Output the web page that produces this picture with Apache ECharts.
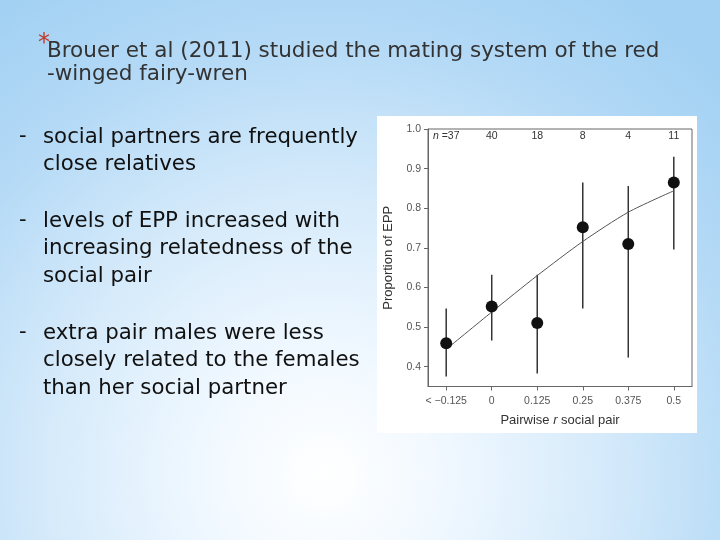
<!DOCTYPE html>
<html>
<head>
<meta charset="utf-8">
<script src="https://cdn.jsdelivr.net/npm/echarts@6/dist/echarts.min.js"></script>
<style>
  html, body { margin: 0; padding: 0; }
  body {
    width: 720px; height: 540px; overflow: hidden;
    background: radial-gradient(ellipse 78% 105% at 45% 88%, #ffffff 0%, #f0f8ff 22%, #d3e9fa 52%, #b3d9f6 78%, #a3d1f3 100%);
  }
  #chart { width: 720px; height: 540px; }
</style>
</head>
<body>
<div id="chart"></div>
<script>
// categories on the x axis (pairwise relatedness of the social pair)
var rValues = [-0.125, 0, 0.125, 0.25, 0.375, 0.5];
var rLabels = ['< \u22120.125', '0', '0.125', '0.25', '0.375', '0.5'];
// sample size per class
var nCounts = ['37', '40', '18', '8', '4', '11'];
// observed proportion of EPP and its interval
var eppValues = [0.459, 0.552, 0.510, 0.752, 0.710, 0.865];
var eppLower = [0.375, 0.466, 0.383, 0.547, 0.423, 0.696];
var eppUpper = [0.547, 0.632, 0.632, 0.865, 0.856, 0.930];
// fitted curve
var fitValues = [0.444, 0.538, 0.630, 0.716, 0.790, 0.844];
// y tick labels
var yTicks = [0.4, 0.5, 0.6, 0.7, 0.8, 0.9, 1.0];

var titleLines = ['Brouer et al (2011) studied the mating system of the red', '-winged fairy-wren'];
var bullets = [
    ['social partners are frequently', 'close relatives'],
    ['levels of EPP increased with', 'increasing relatedness of the', 'social pair'],
    ['extra pair males were less', 'closely related to the females', 'than her social partner']
];

function rLabel(v) {
    for (var i = 0; i < rValues.length; i++) {
        if (Math.abs(rValues[i] - v) < 1e-6) return rLabels[i];
    }
    return '';
}
function nLabel(v) {
    for (var i = 0; i < rValues.length; i++) {
        if (Math.abs(rValues[i] - v) < 1e-6) {
            return i === 0 ? '{i|n} =' + nCounts[i] : nCounts[i];
        }
    }
    return '';
}

// slide texts
var slideFont = '"DejaVu Sans", sans-serif';
var elements = [];
elements.push({
    type: 'rect', z: -10,
    shape: {x: 377, y: 116, width: 320, height: 317},
    style: {fill: '#ffffff'}
});
elements.push({
    type: 'text', x: 38, y: 44, z: 10,
    style: {text: '*', fill: '#c0392b', font: '24px ' + slideFont, verticalAlign: 'middle'}
});
titleLines.forEach(function (line, i) {
    elements.push({
        type: 'text', x: 47, y: 51 + i * 23, z: 10,
        style: {text: line, fill: '#333333', font: '21.5px ' + slideFont, verticalAlign: 'middle'}
    });
});
var paraTop = [137, 221, 333];
bullets.forEach(function (para, p) {
    elements.push({
        type: 'text', x: 19, y: paraTop[p], z: 10,
        style: {text: '-', fill: '#111111', font: '21px ' + slideFont, verticalAlign: 'middle'}
    });
    para.forEach(function (line, i) {
        elements.push({
            type: 'text', x: 43, y: paraTop[p] + i * 27.5, z: 10,
            style: {text: line, fill: '#111111', font: '21.3px ' + slideFont, verticalAlign: 'middle'}
        });
    });
});

var myChart = echarts.init(document.getElementById('chart'));
var chartFont = '"Liberation Sans", Arial, sans-serif';
var option = {
    backgroundColor: 'transparent',
    animation: false,
    graphic: {elements: elements},
    grid: {
        left: 428, right: 28, top: 129, bottom: 153.5,
        show: true, borderColor: '#666', borderWidth: 1, backgroundColor: '#fff'
    },
    xAxis: [
        {
            type: 'value', min: -0.175, max: 0.55,
            name: 'Pairwise {i|r} social pair',
            nameLocation: 'middle', nameGap: 27,
            nameTextStyle: {
                color: '#333', fontSize: 13, fontFamily: chartFont,
                rich: {i: {fontStyle: 'italic', color: '#333', fontSize: 13, fontFamily: chartFont}}
            },
            axisLine: {show: true, onZero: false, lineStyle: {color: '#666', width: 1}},
            axisTick: {show: true, length: 4, customValues: rValues, lineStyle: {color: '#666'}},
            axisLabel: {
                customValues: rValues, formatter: rLabel, margin: 9,
                color: '#555', fontSize: 10.5, fontFamily: chartFont
            },
            splitLine: {show: false}
        },
        {
            type: 'value', position: 'top', min: -0.175, max: 0.55,
            axisLine: {show: false, onZero: false}, axisTick: {show: false}, splitLine: {show: false},
            axisLabel: {
                inside: true, margin: 2, customValues: rValues, formatter: nLabel,
                color: '#333', fontSize: 10.5, fontFamily: chartFont,
                rich: {i: {fontStyle: 'italic', color: '#333', fontSize: 10.5, fontFamily: chartFont}}
            }
        }
    ],
    yAxis: {
        type: 'value', min: 0.35, max: 1.0,
        name: 'Proportion of EPP',
        nameLocation: 'middle', nameGap: 33,
        nameTextStyle: {color: '#333', fontSize: 13, fontFamily: chartFont},
        axisLine: {show: true, onZero: false, lineStyle: {color: '#666', width: 1}},
        axisTick: {show: true, length: 4, customValues: yTicks, lineStyle: {color: '#666'}},
        axisLabel: {
            customValues: yTicks, margin: 7,
            formatter: function (v) { return v.toFixed(1); },
            color: '#555', fontSize: 10.5, fontFamily: chartFont
        },
        splitLine: {show: false}
    },
    series: [
        {
            name: 'interval',
            type: 'custom',
            xAxisIndex: 0,
            data: rValues.map(function (r, i) { return [r, eppLower[i], eppUpper[i]]; }),
            renderItem: function (params, api) {
                var lo = api.coord([api.value(0), api.value(1)]);
                var hi = api.coord([api.value(0), api.value(2)]);
                return {
                    type: 'line',
                    shape: {x1: lo[0], y1: lo[1], x2: hi[0], y2: hi[1]},
                    style: {stroke: '#333', lineWidth: 1.5}
                };
            },
            z: 2
        },
        {
            name: 'fit',
            type: 'line',
            xAxisIndex: 0,
            data: rValues.map(function (r, i) { return [r, fitValues[i]]; }),
            smooth: 0.25,
            showSymbol: false,
            lineStyle: {color: '#555', width: 1},
            z: 3
        },
        {
            name: 'EPP',
            type: 'scatter',
            xAxisIndex: 0,
            data: rValues.map(function (r, i) { return [r, eppValues[i]]; }),
            symbolSize: 12,
            itemStyle: {color: '#111', opacity: 1},
            z: 4
        }
    ]
};
myChart.setOption(option);
</script>
</body>
</html>
